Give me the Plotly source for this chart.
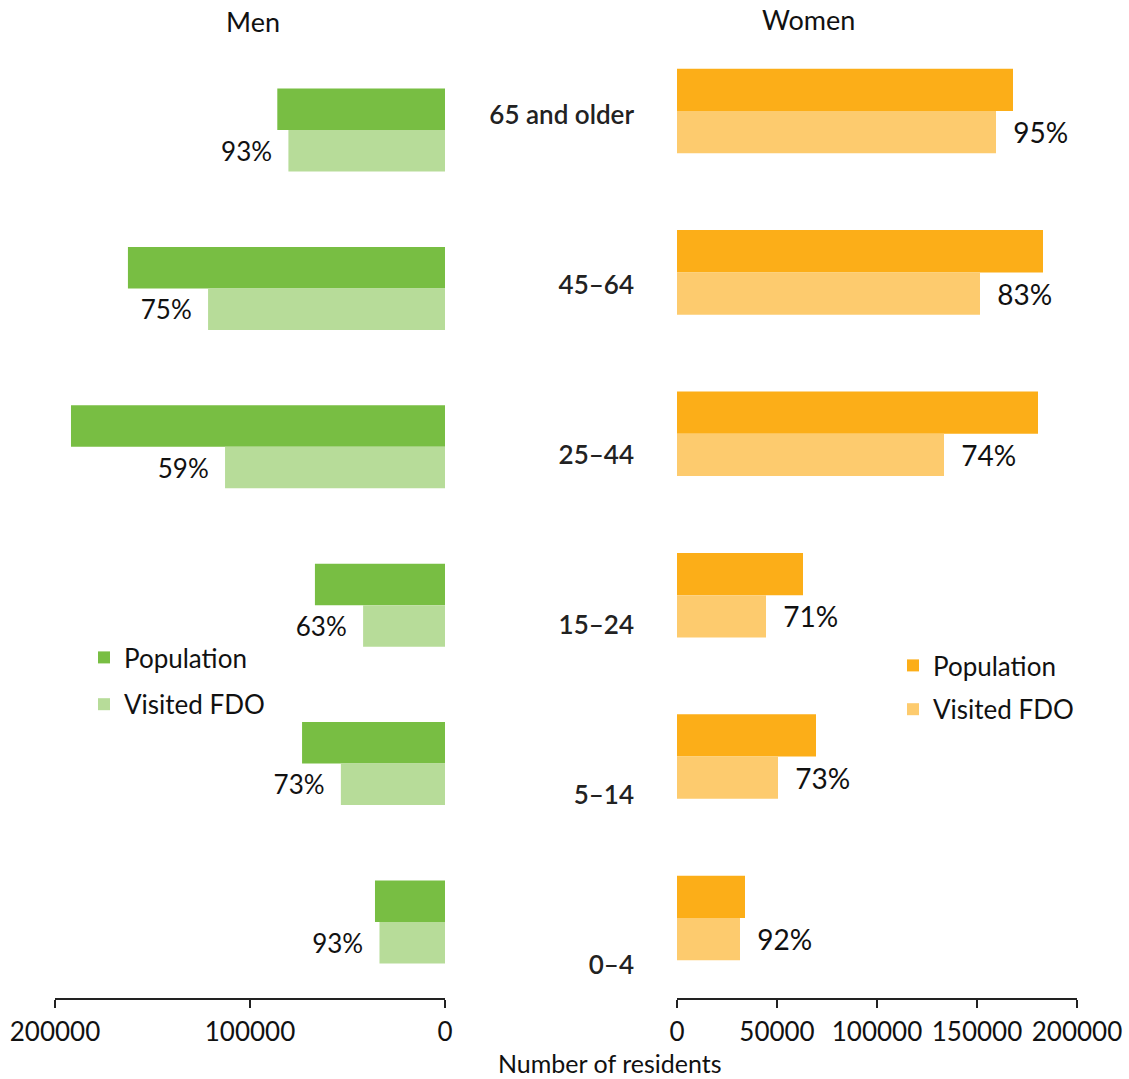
import plotly.graph_objects as go

ages = ["0–4", "5–14", "15–24", "25–44", "45–64", "65 and older"]
men_population = [35900, 73300, 66700, 191800, 162600, 86000]
men_visited = [33600, 53400, 42000, 112800, 121500, 80300]
men_pct = ["93%", "73%", "63%", "59%", "75%", "93%"]
women_population = [34000, 69500, 63000, 180500, 183000, 168000]
women_visited = [31500, 50500, 44500, 133500, 151500, 159500]
women_pct = ["92%", "73%", "71%", "74%", "83%", "95%"]
men_ticks = [0, 100000, 200000]
women_ticks = [0, 50000, 100000, 150000, 200000]

FONT = "Lato"
TXT = "#111111"
idx = list(range(len(ages)))
W = 0.262
NB = "\u00a0"

fig = go.Figure()
fig.add_trace(go.Bar(y=idx, x=men_population, orientation="h", name="Population",
                     marker=dict(color="#78BE43", line=dict(width=0)), width=W, offset=0,
                     xaxis="x", yaxis="y", legend="legend", legendgroup="mp",
                     hoverinfo="x"))
fig.add_trace(go.Bar(y=idx, x=men_visited, orientation="h", name="Visited FDO",
                     marker=dict(color="#B7DC99", line=dict(width=0)), width=W, offset=-W,
                     text=[p + NB * 2 for p in men_pct], textposition="outside",
                     constraintext="none", cliponaxis=False,
                     textfont=dict(size=26, color=TXT, family=FONT),
                     xaxis="x", yaxis="y", legend="legend", legendgroup="mv",
                     hoverinfo="x"))
fig.add_trace(go.Bar(y=idx, x=women_population, orientation="h", name="Population",
                     marker=dict(color="#FCAE18", line=dict(width=0)), width=W, offset=0,
                     xaxis="x2", yaxis="y2", legend="legend2", legendgroup="wp",
                     hoverinfo="x"))
fig.add_trace(go.Bar(y=idx, x=women_visited, orientation="h", name="Visited FDO",
                     marker=dict(color="#FDCB6E", line=dict(width=0)), width=W, offset=-W,
                     text=[NB * 2 + p for p in women_pct], textposition="outside",
                     constraintext="none", cliponaxis=False,
                     textfont=dict(size=28, color=TXT, family=FONT),
                     xaxis="x2", yaxis="y2", legend="legend2", legendgroup="wv",
                     hoverinfo="x"))
# carrier for the age-label axis
fig.add_trace(go.Scatter(y=idx, x=[None] * len(idx), mode="markers", showlegend=False,
                         hoverinfo="skip", xaxis="x3", yaxis="y3"))

axis_common = dict(showgrid=False, zeroline=False, showline=True, linecolor="#222222",
                   linewidth=1.5, ticks="outside", ticklen=8, tickcolor="#222222",
                   tickwidth=1.5, tickformat="d", automargin=False, ticklabelstandoff=2,
                   tickfont=dict(size=26, color=TXT, family=FONT))

fig.update_layout(
    width=1129, height=1079, margin=dict(l=0, r=0, t=0, b=0, autoexpand=False),
    paper_bgcolor="white", plot_bgcolor="rgba(0,0,0,0)",
    font=dict(family=FONT, color=TXT),
    barmode="overlay",
    xaxis=dict(domain=[55 / 1129, 445 / 1129], range=[200000, 0], tickvals=men_ticks,
               anchor="y", **axis_common),
    xaxis2=dict(domain=[677 / 1129, 1077 / 1129], range=[0, 200000], tickvals=women_ticks,
                anchor="y2", **axis_common),
    xaxis3=dict(domain=[0.45, 0.55], range=[0, 1], visible=False, anchor="y3"),
    yaxis=dict(domain=[0.0751, 0.9529], range=[-0.48, 5.5], visible=False),
    yaxis2=dict(domain=[0.0751, 0.9719], range=[-0.496, 5.5], visible=False),
    yaxis3=dict(domain=[0.0269, 0.972], range=[-0.5, 5.5], anchor="free",
                position=634 / 1129, tickvals=idx, ticktext=ages, ticks="",
                showline=False, showgrid=False, zeroline=False, automargin=False,
                tickfont=dict(size=26, color="#222222", family=FONT, weight=600)),
    legend=dict(x=84 / 1129, y=1 - 634 / 1079, xanchor="left", yanchor="top",
                font=dict(size=26, color=TXT, family=FONT), tracegroupgap=10,
                bgcolor="rgba(0,0,0,0)"),
    legend2=dict(x=893 / 1129, y=1 - 642 / 1079, xanchor="left", yanchor="top",
                 font=dict(size=26, color=TXT, family=FONT), tracegroupgap=7,
                 bgcolor="rgba(0,0,0,0)"),
    annotations=[
        dict(text="Men", x=253 / 1129, y=1 - 22 / 1079, xref="paper", yref="paper",
             xanchor="center", yanchor="middle",
             showarrow=False, font=dict(size=27, color=TXT, family=FONT)),
        dict(text="Women", x=808 / 1129, y=1 - 20 / 1079, xref="paper", yref="paper",
             xanchor="center", yanchor="middle",
             showarrow=False, font=dict(size=27, color=TXT, family=FONT)),
        dict(text="Number of residents", x=610 / 1129, y=0, xref="paper",
             yref="paper", xanchor="center", yanchor="bottom", borderpad=0,
             showarrow=False, font=dict(size=25, color=TXT, family=FONT)),
    ],
)

fig.write_html("out.html")
